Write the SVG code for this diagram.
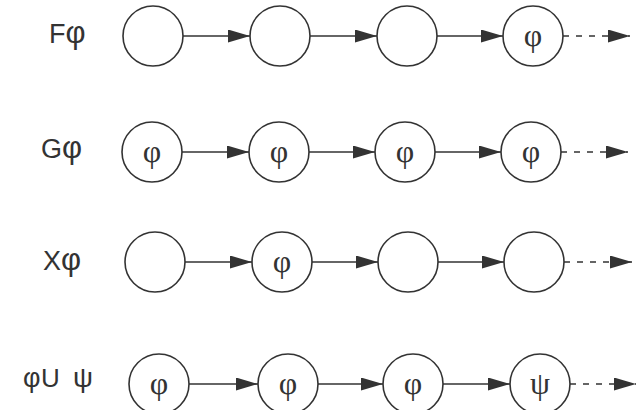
<svg xmlns="http://www.w3.org/2000/svg" width="639" height="410" viewBox="0 0 639 410">
<defs>
<style>
.n circle{fill:none;stroke:#333;stroke-width:1.6}
.lbl{font-family:"Liberation Sans",Arial,sans-serif;font-size:27px;fill:#333}
.ph{font-size:31px}
.sym{font-family:"Liberation Serif","Times New Roman",serif;font-size:32px;fill:#333;text-anchor:middle}
.e{stroke:#333;stroke-width:1.6;fill:none;marker-end:url(#ah)}
.d{stroke-dasharray:6 7}
</style>
<marker id="ah" viewBox="0 0 22 13" refX="22" refY="6.5" markerWidth="22" markerHeight="13" markerUnits="userSpaceOnUse" orient="auto">
<path d="M0,0 L22,6.5 L0,13 z" fill="#333"/>
</marker>
</defs>
<rect width="639" height="410" fill="#fff"/>
<g id="labels">
<text class="lbl" x="49" y="43">F<tspan class="ph">φ</tspan></text>
<text class="lbl" x="41" y="158">G<tspan class="ph">φ</tspan></text>
<text class="lbl" x="43" y="270">X<tspan class="ph">φ</tspan></text>
<text class="lbl" y="387" style="font-size:26px"><tspan x="23" class="ph" style="font-size:27px">φ</tspan><tspan x="41">U</tspan><tspan x="73" style="font-size:28px">ψ</tspan></text>
</g>
<g id="F1" class="n"><circle cx="153" cy="36" r="30"/></g>
<g id="F2" class="n"><circle cx="280" cy="36" r="30"/></g>
<g id="F3" class="n"><circle cx="407" cy="36" r="30"/></g>
<g id="F4" class="n"><circle cx="533" cy="36" r="30"/><text class="sym" x="533" y="46">φ</text></g>
<g id="G1" class="n"><circle cx="152" cy="152" r="30"/><text class="sym" x="152" y="162">φ</text></g>
<g id="G2" class="n"><circle cx="279" cy="152" r="30"/><text class="sym" x="279" y="162">φ</text></g>
<g id="G3" class="n"><circle cx="405" cy="152" r="30"/><text class="sym" x="405" y="162">φ</text></g>
<g id="G4" class="n"><circle cx="531" cy="152" r="30"/><text class="sym" x="531" y="162">φ</text></g>
<g id="X1" class="n"><circle cx="155" cy="262" r="30"/></g>
<g id="X2" class="n"><circle cx="282" cy="262" r="30"/><text class="sym" x="282" y="272">φ</text></g>
<g id="X3" class="n"><circle cx="408" cy="262" r="30"/></g>
<g id="X4" class="n"><circle cx="534" cy="262" r="30"/></g>
<g id="U1" class="n"><circle cx="159" cy="384" r="30"/><text class="sym" x="159" y="394">φ</text></g>
<g id="U2" class="n"><circle cx="288" cy="384" r="30"/><text class="sym" x="288" y="394">φ</text></g>
<g id="U3" class="n"><circle cx="413" cy="384" r="30"/><text class="sym" x="413" y="394">φ</text></g>
<g id="U4" class="n"><circle cx="540" cy="384" r="30"/><text class="sym" x="540" y="394">ψ</text></g>
<g id="connectors">
<line class="e" x1="183" y1="36" x2="250" y2="36"/>
<line class="e" x1="310" y1="36" x2="377" y2="36"/>
<line class="e" x1="437" y1="36" x2="503" y2="36"/>
<line class="e d" x1="563" y1="36" x2="630" y2="36"/>
<line class="e" x1="182" y1="152" x2="249" y2="152"/>
<line class="e" x1="309" y1="152" x2="375" y2="152"/>
<line class="e" x1="435" y1="152" x2="501" y2="152"/>
<line class="e d" x1="561" y1="152" x2="628" y2="152"/>
<line class="e" x1="185" y1="262" x2="252" y2="262"/>
<line class="e" x1="312" y1="262" x2="378" y2="262"/>
<line class="e" x1="438" y1="262" x2="504" y2="262"/>
<line class="e d" x1="564" y1="262" x2="632" y2="262"/>
<line class="e" x1="189" y1="384" x2="258" y2="384"/>
<line class="e" x1="318" y1="384" x2="383" y2="384"/>
<line class="e" x1="443" y1="384" x2="510" y2="384"/>
<line class="e d" x1="570" y1="384" x2="636" y2="384"/>
</g>
</svg>
